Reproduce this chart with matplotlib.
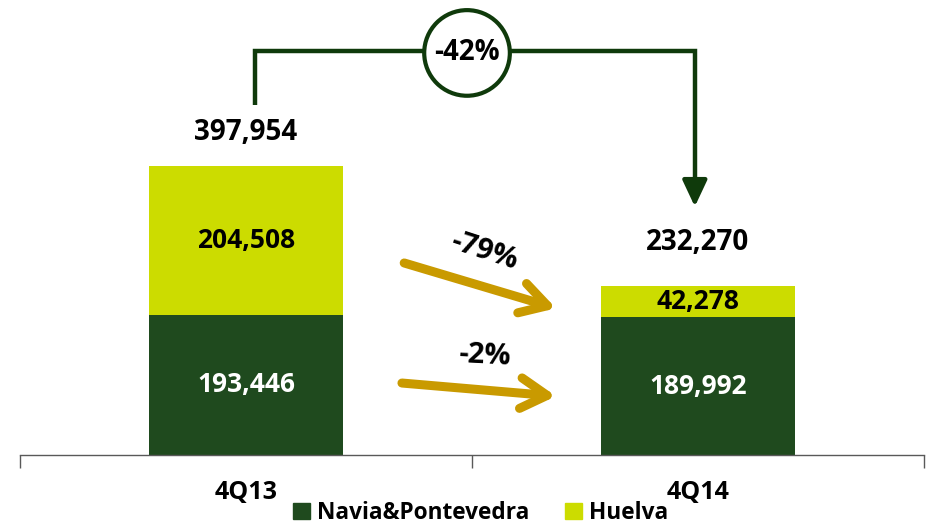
import matplotlib
matplotlib.use("Agg")
import matplotlib.pyplot as plt
from matplotlib.patches import Patch

categories = ["4Q13", "4Q14"]
navia = [193446, 189992]
huelva = [204508, 42278]
series_names = ["Navia&Pontevedra", "Huelva"]
change_total = "-42%"
change_huelva = "-79%"
change_navia = "-2%"

DARK = "#1f4a1e"
LIME = "#ccdc00"
LINE = "#0f3a0b"
GOLD = "#c99a00"
FONT = ["Open Sans", "DejaVu Sans"]

W, H = 928, 524
fig = plt.figure(figsize=(W / 100, H / 100), dpi=100)
ax = fig.add_axes([20 / W, 69 / H, 904 / W, 455 / H])

x = list(range(len(categories)))
totals = [a + b for a, b in zip(navia, huelva)]
bw = 0.43
ax.bar(x, navia, width=bw, color=DARK, zorder=2)
ax.bar(x, huelva, width=bw, bottom=navia, color=LIME, zorder=2)

ax.set_xlim(-0.5, 1.5)
ax.set_ylim(0, 626500)
for s in ["top", "right", "left"]:
    ax.spines[s].set_visible(False)
ax.spines["bottom"].set_color("#595959")
ax.spines["bottom"].set_linewidth(1.0)
ax.set_yticks([])
ax.set_xticks(x)
ax.set_xticklabels(categories, fontsize=18, fontweight="bold", family=FONT)
ax.tick_params(axis="x", which="major", length=0, pad=18)
ax.set_xticks([-0.5, 0.5, 1.5], minor=True)
ax.tick_params(axis="x", which="minor", length=9, width=1.0, color="#595959", direction="out")

# segment labels
for i in x:
    ax.text(i, navia[i] / 2, f"{navia[i]:,}", ha="center", va="center",
            color="white", fontsize=19, fontweight="bold", family=FONT, zorder=3)
    ax.text(i, navia[i] + huelva[i] / 2, f"{huelva[i]:,}", ha="center", va="center",
            color="black", fontsize=19, fontweight="bold", family=FONT, zorder=3)

# totals
ax.text(0, totals[0] + 45500, f"{totals[0]:,}", ha="center", va="center",
        color="black", fontsize=20, fontweight="bold", family=FONT)
ax.text(1, totals[1] + 60000, f"{totals[1]:,}", ha="center", va="center",
        color="black", fontsize=20, fontweight="bold", family=FONT)

# bracket
yb = 556000
xl, xr = 0.02, 0.993
ax.plot([xl, xl, xr, xr], [482000, yb, yb, 362000], color=LINE, lw=3.2,
        solid_capstyle="butt", solid_joinstyle="miter", zorder=4, clip_on=False)
ax.annotate("", xy=(xr, 342000), xytext=(xr, 370000),
            arrowprops=dict(arrowstyle="-|>,head_length=1.6,head_width=0.75",
                            color=LINE, lw=3.2, shrinkA=0, shrinkB=0), zorder=4)
ax.text(0.489, 553600, change_total, ha="center", va="center", fontsize=20,
        fontweight="bold", family=FONT, zorder=5,
        bbox=dict(boxstyle="circle,pad=0.36", fc="white", ec=LINE, lw=3))

# gold arrows
for (x0, y0, x1, y1) in [(0.35, 264400, 0.686, 202000), (0.345, 99100, 0.686, 81000)]:
    ax.annotate("", xy=(x1, y1), xytext=(x0, y0),
                arrowprops=dict(arrowstyle="->,head_length=1.9,head_width=1.1",
                                color=GOLD, lw=6.5, shrinkA=0, shrinkB=0,
                                capstyle="round", joinstyle="round"), zorder=3)
ax.text(0.527, 280000, change_huelva, ha="center", va="center", fontsize=21,
        fontweight="bold", family=FONT, rotation=-18)
ax.text(0.527, 136000, change_navia, ha="center", va="center", fontsize=21,
        fontweight="bold", family=FONT, rotation=-3)

handles = [Patch(color=DARK), Patch(color=LIME)]
fig.legend(handles, series_names, loc="center", bbox_to_anchor=(0.518, 1 - 513 / H),
           ncol=2, frameon=False, handlelength=0.75, handleheight=0.75,
           handletextpad=0.3, columnspacing=1.6,
           prop=dict(family=FONT, weight="bold", size=16.3))

fig.savefig("out.png", dpi=100)
